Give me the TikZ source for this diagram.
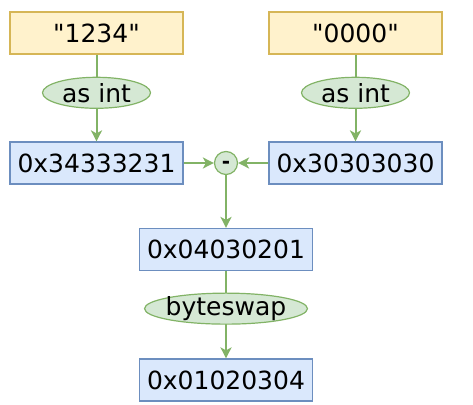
\documentclass[tikz,border=0pt]{standalone}
\usepackage{fontspec}
\setmainfont{DejaVu Sans}[Ligatures=TeXOff]
\usetikzlibrary{arrows.meta, shapes.geometric}

\definecolor{strfill}{HTML}{FFF2CC}
\definecolor{strline}{HTML}{D6B656}
\definecolor{intfill}{HTML}{DAE8FC}
\definecolor{intline}{HTML}{6C8EBF}
\definecolor{opfill}{HTML}{D5E8D4}
\definecolor{opline}{HTML}{82B366}

\tikzset{
  strbox/.style={draw=strline, fill=strfill, line width=1.2pt, minimum width=173pt, minimum height=42pt, inner sep=0pt, font=\fontsize{25}{30}\selectfont},
  intbox/.style={draw=intline, fill=intfill, line width=1.2pt, minimum width=173pt, minimum height=42pt, inner sep=0pt, font=\fontsize{25}{30}\selectfont},
  oplabel/.style={ellipse, draw=opline, fill=opfill, line width=1.2pt, minimum width=108pt, minimum height=31pt, inner xsep=-4pt, inner ysep=-1.5pt, font=\fontsize{25}{30}\selectfont},
  opcircle/.style={circle, draw=opline, fill=opfill, line width=1.2pt, minimum size=23pt, inner sep=0pt, text height=10pt, text depth=0pt, font=\fontsize{20}{20}\selectfont\bfseries},
  flow/.style={draw=opline, line width=2pt, -{Stealth[length=11pt, width=11pt, inset=3pt]}},
}

\begin{document}
\begin{tikzpicture}[x=1pt, y=-1pt]
  \useasboundingbox (0,0) rectangle (473,404);

  % input strings
  \node[strbox] (strA) at (96.5,33) {"1234"};
  \node[strbox] (strB) at (355.5,33) {"0000"};

  % their integer values
  \node[intbox] (intA) at (96.5,163) {0x34333231};
  \node[intbox] (intB) at (355.5,163) {0x30303030};

  \node[opcircle] (minus) at (226,163) {-};

  \node[intbox] (diff) at (226,249.5) {0x04030201};
  \node[intbox] (result) at (226,380) {0x01020304};

  \draw[flow] (strA) -- node[oplabel, pos=0.44] (castA) {as int} (intA);
  \draw[flow] (strB) -- node[oplabel, pos=0.44] (castB) {as int} (intB);
  \draw[flow] (intA) -- (minus);
  \draw[flow] (intB) -- (minus);
  \draw[flow] (minus) -- (diff);
  \draw[flow] (diff) -- node[oplabel, minimum width=163pt, pos=0.43] (swap) {byteswap} (result);
\end{tikzpicture}
\end{document}
